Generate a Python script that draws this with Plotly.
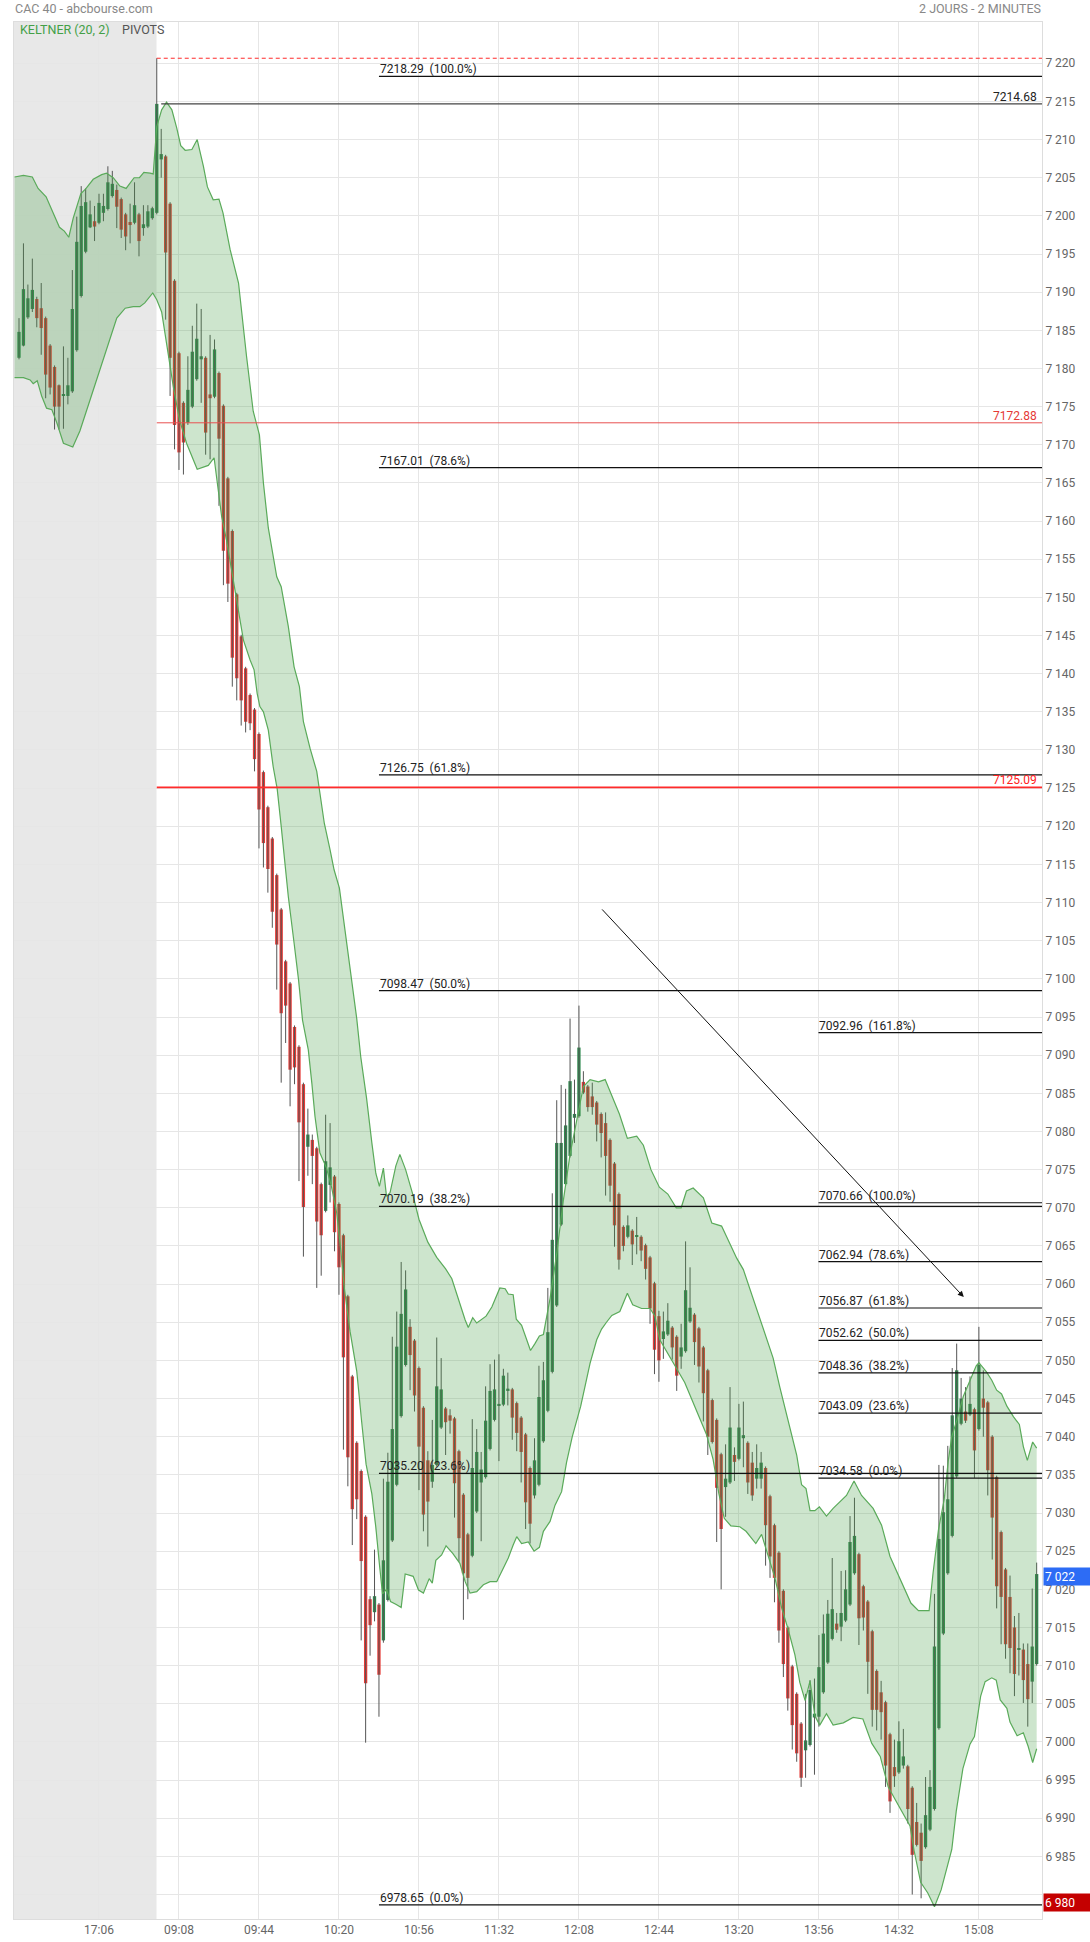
import plotly.graph_objects as go

# ---------------- data ----------------
open_p = [
    7181.4, 7183.0, 7186.7, 7187.8, 7189.1, 7187.9, 7186.6, 7183.0, 7180.2, 7177.8,
    7176.4, 7176.4, 7177.0, 7182.4, 7189.5, 7195.3, 7198.5, 7199.3, 7199.1, 7200.4,
    7200.9, 7202.6, 7203.4, 7202.2, 7200.2, 7199.2, 7199.1, 7200.2, 7198.4, 7198.6,
    7199.7,
    7200.4, 7207.4, 7207.8, 7201.6, 7191.5, 7182.0, 7175.5, 7172.9, 7175.0, 7178.6,
    7181.2, 7181.4, 7176.6, 7176.3, 7179.4, 7175.1, 7165.6, 7158.7, 7150.4, 7144.9,
    7140.7, 7137.2, 7135.3, 7132.1, 7127.1, 7122.5, 7118.4, 7113.6, 7109.1, 7102.3,
    7099.4, 7093.7, 7091.1, 7086.2, 7078.0, 7078.9, 7077.8, 7073.1, 7069.6, 7073.0,
    7074.1, 7070.5, 7066.4, 7058.4, 7047.9, 7039.2, 7035.5, 7029.5, 7018.7, 7017.0,
    7018.0, 7013.3, 7018.6, 7026.4, 7033.7, 7042.7, 7049.4, 7054.4, 7052.6, 7049.0,
    7043.8, 7036.9, 7034.1, 7036.3, 7041.2, 7043.7, 7042.8, 7042.4, 7038.1, 7032.4,
    7027.2, 7024.4, 7030.2, 7034.0, 7034.7, 7038.4, 7042.2, 7044.1, 7044.2, 7046.0,
    7046.2, 7044.4, 7042.5, 7040.3, 7035.9, 7032.3, 7033.7, 7039.4, 7043.4, 7048.5,
    7057.2, 7067.8, 7073.1, 7076.8, 7081.8, 7082.0, 7086.5, 7085.9, 7084.6, 7083.8,
    7082.3, 7081.1, 7078.9, 7075.8, 7071.8, 7067.5, 7066.2, 7067.0, 7066.2, 7066.2,
    7065.1, 7063.5, 7060.1, 7055.8, 7052.8, 7053.4, 7054.3, 7053.1, 7050.5, 7051.2,
    7055.1, 7056.0, 7054.2, 7051.7, 7048.7, 7044.8, 7042.2, 7037.7, 7033.4, 7034.0,
    7037.6, 7037.1, 7039.8, 7039.2, 7036.6, 7034.5, 7034.5, 7035.9, 7032.2, 7028.4,
    7024.8, 7019.8, 7015.0, 7009.9, 7006.3, 7002.4, 6998.9, 6999.6, 7003.2, 7003.3,
    7006.5, 7010.4, 7013.5, 7015.5, 7015.1, 7015.9, 7018.0, 7022.1, 7024.6, 7020.4,
    7018.4, 7014.5, 7009.3, 7006.5, 7005.2, 7001.0, 6996.7, 6996.0, 6996.9, 6996.8,
    6994.0, 6989.5, 6988.1, 6986.2, 6988.5, 6991.2, 7001.8, 7014.2, 7022.1, 7027.0,
    7034.8, 7041.7, 7043.3, 7042.9, 7043.6, 7041.0, 7045.0, 7044.5, 7040.0, 7034.7,
    7027.5, 7022.6, 7019.0, 7015.0, 7012.1, 7012.1, 7010.2, 7007.9, 7010.2,
]
high_p = [
    7186.6, 7196.4, 7191.0, 7194.4, 7189.4, 7191.2, 7186.8, 7183.2, 7180.4, 7177.9,
    7182.9, 7181.4, 7192.9, 7199.9, 7203.9, 7203.6, 7202.0, 7201.3, 7202.9, 7202.9,
    7206.5, 7205.9, 7204.1, 7202.4, 7200.4, 7201.6, 7204.4, 7200.4, 7201.4, 7201.4,
    7201.2,
    7220.66, 7211.4, 7208.0, 7201.8, 7191.7, 7182.2, 7175.7, 7181.6, 7185.6, 7188.5,
    7187.8, 7181.6, 7184.4, 7183.8, 7179.6, 7175.3, 7165.8, 7158.9, 7150.6, 7145.1,
    7140.9, 7137.4, 7135.5, 7132.3, 7127.3, 7122.7, 7118.6, 7113.8, 7109.3, 7102.5,
    7099.6, 7093.9, 7091.3, 7086.4, 7083.0, 7079.6, 7078.0, 7073.3, 7082.2, 7081.1,
    7074.3, 7070.7, 7066.6, 7058.6, 7048.1, 7039.4, 7035.7, 7029.7, 7019.1, 7025.2,
    7018.2, 7034.5, 7037.9, 7053.1, 7056.4, 7062.9, 7061.8, 7055.4, 7052.8, 7049.2,
    7044.0, 7038.1, 7042.2, 7053.0, 7050.3, 7043.9, 7043.6, 7042.6, 7038.3, 7032.6,
    7027.4, 7042.3, 7041.0, 7038.0, 7046.6, 7049.5, 7050.1, 7050.8, 7048.9, 7048.4,
    7046.4, 7044.6, 7042.7, 7040.5, 7036.1, 7039.8, 7049.3, 7049.8, 7059.5, 7071.9,
    7084.1, 7086.1, 7085.6, 7094.8, 7086.8, 7096.5, 7087.9, 7086.1, 7086.4, 7084.0,
    7082.5, 7082.5, 7079.1, 7076.0, 7072.0, 7067.7, 7069.0, 7067.2, 7068.8, 7066.4,
    7065.3, 7063.7, 7060.3, 7056.5, 7056.4, 7057.5, 7054.5, 7053.3, 7054.8, 7065.6,
    7062.2, 7056.2, 7054.4, 7051.9, 7048.9, 7045.0, 7042.4, 7037.9, 7039.0, 7046.5,
    7038.6, 7044.3, 7044.6, 7039.4, 7038.0, 7039.0, 7038.0, 7036.1, 7032.4, 7028.6,
    7025.0, 7020.0, 7015.2, 7010.1, 7006.5, 7002.6, 7006.3, 7008.1, 7008.3, 7014.0,
    7016.7, 7018.6, 7024.1, 7016.9, 7022.4, 7022.5, 7029.6, 7032.0, 7024.8, 7020.6,
    7018.6, 7014.7, 7009.5, 7008.0, 7005.4, 7001.2, 7000.3, 7002.7, 7001.7, 6997.0,
    6994.2, 6992.0, 6989.3, 6995.4, 6996.3, 7019.4, 7036.3, 7036.2, 7038.8, 7049.0,
    7052.2, 7047.7, 7046.5, 7047.9, 7043.8, 7054.4, 7048.7, 7044.7, 7040.2, 7034.9,
    7027.7, 7022.8, 7021.8, 7016.5, 7016.9, 7012.9, 7012.9, 7020.1, 7023.5,
]
low_p = [
    7181.2, 7182.9, 7186.5, 7187.4, 7185.4, 7181.8, 7176.1, 7176.6, 7172.0, 7172.0,
    7172.1, 7175.3, 7176.8, 7182.2, 7189.3, 7195.1, 7198.4, 7196.7, 7198.9, 7199.3,
    7200.7, 7202.4, 7198.4, 7197.1, 7195.5, 7196.4, 7198.9, 7194.7, 7197.4, 7198.4,
    7199.5,
    7200.2, 7205.0, 7186.4, 7176.4, 7169.4, 7166.7, 7166.1, 7172.6, 7174.8, 7178.4,
    7175.5, 7168.7, 7168.1, 7176.1, 7162.0, 7151.6, 7149.4, 7138.3, 7136.5, 7133.2,
    7132.3, 7132.6, 7127.2, 7117.1, 7114.6, 7111.3, 7106.7, 7098.6, 7086.4, 7091.6,
    7083.3, 7086.2, 7073.5, 7063.6, 7074.2, 7073.1, 7059.5, 7061.1, 7069.4, 7070.7,
    7064.3, 7058.6, 7038.3, 7033.5, 7025.8, 7029.2, 7013.3, 6999.9, 7011.3, 7015.8,
    7003.3, 7013.0, 7018.4, 7026.2, 7033.5, 7042.5, 7049.2, 7046.1, 7043.3, 7033.0,
    7027.6, 7025.6, 7033.3, 7036.1, 7041.0, 7037.6, 7040.4, 7029.4, 7023.6, 7016.0,
    7018.7, 7024.2, 7030.0, 7026.3, 7034.5, 7038.2, 7042.0, 7036.8, 7044.0, 7044.1,
    7039.6, 7038.1, 7034.0, 7027.9, 7026.0, 7031.9, 7033.5, 7039.2, 7043.2, 7048.3,
    7057.0, 7067.6, 7072.9, 7076.6, 7078.5, 7081.8, 7084.9, 7082.6, 7082.2, 7078.7,
    7076.6, 7071.6, 7070.8, 7064.9, 7061.9, 7064.3, 7066.0, 7062.5, 7063.9, 7063.0,
    7060.6, 7054.8, 7048.2, 7047.2, 7050.2, 7053.2, 7050.1, 7046.0, 7048.9, 7051.0,
    7054.9, 7049.4, 7047.1, 7042.0, 7037.6, 7039.1, 7026.2, 7020.0, 7029.5, 7033.8,
    7034.2, 7036.9, 7036.0, 7032.5, 7031.6, 7033.2, 7033.2, 7023.1, 7021.5, 7018.3,
    7013.0, 7008.5, 7004.1, 6999.0, 6997.4, 6994.1, 6995.3, 6999.4, 6995.7, 7002.0,
    7006.3, 7010.2, 7013.3, 7014.3, 7013.2, 7015.7, 7017.8, 7021.9, 7012.7, 7014.6,
    7006.3, 7002.0, 7001.5, 7000.3, 6994.1, 6990.7, 6994.1, 6995.8, 6996.5, 6989.3,
    6980.0, 6986.3, 6979.5, 6986.0, 6988.3, 6991.0, 7001.6, 7014.0, 7021.9, 7026.8,
    7034.6, 7041.5, 7041.8, 7042.7, 7034.6, 7040.8, 7040.0, 7032.3, 7023.9, 7017.5,
    7012.8, 7010.9, 7009.0, 7006.0, 7008.7, 7005.1, 7002.0, 7005.1, 7010.0,
]
close_p = [
    7184.8, 7190.4, 7189.2, 7190.3, 7186.6, 7185.3, 7179.2, 7177.5, 7175.0, 7175.0,
    7176.4, 7177.8, 7187.8, 7196.6, 7201.3, 7201.8, 7200.2, 7198.6, 7201.7, 7201.3,
    7204.4, 7204.2, 7201.2, 7198.2, 7197.3, 7198.8, 7201.4, 7196.7, 7198.9, 7200.6,
    7201.0,
    7214.68, 7208.1, 7195.2, 7181.4, 7172.6, 7169.0, 7170.3, 7177.2, 7182.2, 7183.9,
    7181.6, 7171.6, 7176.1, 7182.5, 7170.8, 7156.1, 7151.8, 7142.1, 7139.4, 7136.5,
    7133.7, 7133.5, 7128.8, 7122.2, 7117.8, 7114.4, 7108.8, 7104.5, 7095.5, 7096.5,
    7088.1, 7088.4, 7081.2, 7070.1, 7079.6, 7076.8, 7068.2, 7066.4, 7076.1, 7075.3,
    7066.8, 7062.2, 7050.4, 7037.3, 7030.5, 7031.8, 7023.7, 7007.7, 7015.3, 7019.1,
    7008.8, 7023.8, 7034.1, 7041.0, 7051.8, 7056.1, 7059.3, 7050.7, 7045.4, 7038.7,
    7029.8, 7031.5, 7036.3, 7046.6, 7046.2, 7041.9, 7042.1, 7033.9, 7026.7, 7022.1,
    7021.5, 7035.9, 7038.0, 7035.7, 7042.1, 7046.0, 7046.2, 7044.3, 7048.0, 7046.3,
    7042.5, 7040.5, 7038.0, 7031.4, 7028.6, 7036.9, 7045.2, 7047.4, 7053.7, 7065.8,
    7078.5, 7078.5, 7080.8, 7086.6, 7082.3, 7091.0, 7085.1, 7083.2, 7083.2, 7080.9,
    7079.8, 7076.8, 7072.9, 7067.7, 7063.2, 7065.0, 7067.7, 7065.2, 7066.3, 7064.4,
    7062.0, 7056.8, 7051.4, 7050.0, 7053.8, 7055.2, 7051.7, 7048.0, 7051.7, 7059.2,
    7056.9, 7052.4, 7049.2, 7045.7, 7040.0, 7039.3, 7033.3, 7027.9, 7034.5, 7041.2,
    7036.7, 7041.2, 7040.2, 7034.0, 7032.3, 7035.9, 7036.6, 7028.4, 7024.3, 7021.5,
    7014.6, 7010.2, 7005.7, 7002.2, 6998.5, 6995.3, 7000.2, 7006.8, 7003.7, 7009.8,
    7014.2, 7016.8, 7017.4, 7014.7, 7016.9, 7020.0, 7026.2, 7027.0, 7016.2, 7016.3,
    7010.5, 7004.2, 7004.2, 7003.9, 6996.9, 6992.2, 6995.5, 7000.1, 6998.1, 6991.2,
    6985.2, 6986.5, 6984.4, 6990.4, 6994.1, 7012.5, 7026.6, 7030.1, 7031.8, 7042.8,
    7048.7, 7045.0, 7042.1, 7044.3, 7038.2, 7049.4, 7043.8, 7035.6, 7029.4, 7020.4,
    7019.0, 7012.8, 7012.3, 7008.9, 7012.3, 7008.1, 7005.6, 7012.5, 7022.0,
]

# Keltner (20, 2) band (bar position, price)
upper_x = [-1, 1, 3, 4.3, 6.1, 7.4, 9.1, 10.2, 11.2, 12.2, 13.9, 15.1, 16.7, 18.6, 19.7,
           21.2, 22.7, 24.1, 25.9, 27.1, 28.1, 29.5, 30.2, 31, 32.1, 33.2, 34.4, 35.5,
           36.4, 37.4, 38.9, 40.1, 41.5, 42.4, 43.7, 45.0, 45.9, 47.5, 49.4, 51.2, 52.7,
           54.1, 55, 56.1, 58, 59, 60.6, 61.9, 63.1, 64, 65.5, 67, 68.7, 70, 70.9, 72.1,
           73.7, 74.9, 76, 76.9, 78.2, 79.4, 80.3, 81.1, 82, 82.7, 83.5, 84.8, 85.7, 87,
           88.5, 90, 92, 94, 96, 97.4, 98.3, 99.2, 100.4, 101.1, 102.1, 103, 105.1, 106.4,
           107.3, 108.2, 109.4, 110.1, 111.2, 111.9, 113.1, 114.1, 115.1, 116.1, 117.1,
           118, 118.7, 119.5, 121, 122.5, 124, 125.5, 127, 128.5, 130.4, 131.9, 133.4,
           135.1, 136.9, 139, 140.5, 142.2, 144.1, 146, 147.9, 149, 150.2, 151.7, 154,
           155.9, 158.1, 160.3, 161.5, 163, 164.5, 166, 168, 169.7, 171.2, 173.1, 175,
           176.1, 177.1, 178, 179.1, 180.1, 181.7, 183.2, 184.7, 186.2, 187.9, 189.6,
           192.2, 194.1, 196, 198.6, 200.7, 202.4, 204.8, 205.7, 206.9, 208.2, 209.1,
           209.9, 211, 212.5, 214, 215.4, 216, 217.7, 218.9, 220, 221.1, 222.3, 223.8,
           225.1, 226, 226.9, 228.1, 229]
upper_y = [7205.1, 7205.3, 7205.1, 7203.6, 7202.5, 7200.7, 7198.5, 7198.0, 7197.2, 7199.7,
           7202.9, 7203.6, 7204.8, 7205.4, 7205.6, 7205.0, 7203.9, 7203.6, 7205.0, 7205.0,
           7205.7, 7205.6, 7205.5, 7211.7, 7213.9, 7214.9, 7213.9, 7211.5, 7209.2, 7208.6,
           7208.7, 7210.0, 7206.5, 7203.8, 7202.1, 7202.2, 7200.4, 7195.6, 7191.2, 7181.6,
           7174.4, 7171.3, 7165.0, 7159.1, 7152.7, 7151.4, 7146.2, 7140.9, 7138.3, 7133.7,
           7130.2, 7127.2, 7120.4, 7116.9, 7114.3, 7111.9, 7105.1, 7099.4, 7094.8, 7089.8,
           7084.4, 7078.5, 7074.5, 7072.8, 7075.2, 7071.5, 7072.0, 7075.5, 7077.0, 7075.0,
           7072.0, 7068.5, 7065.5, 7063.5, 7062.0, 7060.7, 7059.0, 7057.5, 7055.3, 7054.3,
           7055.6, 7054.9, 7055.8, 7057.0, 7058.2, 7059.5, 7059.4, 7058.7, 7058.6, 7055.4,
           7054.6, 7052.9, 7051.3, 7052.2, 7053.2, 7053.4, 7055.5, 7058.1, 7064.0, 7071.0,
           7077.0, 7081.5, 7085.9, 7086.8, 7086.5, 7086.8, 7084.8, 7082.3, 7079.1, 7079.4,
           7078.2, 7075.0, 7072.7, 7071.8, 7070.0, 7070.0, 7072.2, 7072.6, 7071.3, 7068.0,
           7067.6, 7064.9, 7063.4, 7061.9, 7059.3, 7057.0, 7053.5, 7050.3, 7046.5, 7041.9,
           7037.6, 7033.7, 7033.2, 7030.3, 7030.3, 7030.8, 7029.6, 7030.6, 7031.5, 7032.3,
           7034.2, 7032.3, 7030.6, 7028.4, 7024.3, 7021.0, 7018.2, 7017.2, 7017.2, 7022.2,
           7027.8, 7031.8, 7036.8, 7040.0, 7042.1, 7045.3, 7047.4, 7049.3, 7049.7, 7048.5,
           7047.4, 7046.1, 7045.6, 7044.0, 7042.6, 7041.6, 7038.7, 7036.9, 7039.3, 7038.5]
lower_x = [-1, 1, 2.5, 3.2, 4.1, 5.1, 6.2, 7.4, 8.5, 10, 12.1, 13.7, 16, 18.2, 20.5, 22,
           23.9, 25.7, 27.2, 28.3, 30.1, 31, 32.1, 33.2, 34.7, 36.1, 37.7, 40.1, 42.6,
           43.9, 44.5, 45.6, 46.7, 47.9, 49, 50.5, 52, 52.9, 53.6, 54.2, 55, 56.1, 57.2,
           58.1, 59, 59.5, 60.6, 61.9, 62.9, 63.8, 65.1, 65.9, 66.6, 67.7, 69.2, 70.3,
           71.5, 72.4, 73.2, 74.5, 76, 77.1, 78.1, 79.4, 80.3, 81.1, 81.8, 82.7, 83.6,
           84.9, 86, 86.9, 88.7, 89.9, 91, 92.3, 93, 93.8, 95.1, 96.1, 97.6, 99.2, 100.4,
           101.5, 103, 104.5, 106, 107.5, 108.6, 110.1, 111.2, 112, 113.1, 114.6, 115.9,
           117.1, 118, 119.5, 120.6, 122.1, 123.2, 124.5, 126.4, 128.5, 130, 131.1, 132.2,
           133.4, 135.2, 136.9, 138.1, 140.1, 142, 143.1, 144.2, 146.1, 148, 149.8, 151.7,
           153.2, 154.7, 156.2, 157.5, 158.7, 160.2, 162.2, 163.6, 165.8, 167.1, 168.2,
           170.1, 171.6, 173.1, 174.6, 175.7, 176.9, 178, 179.1, 180.2, 181.7, 183.2,
           185.5, 187.7, 189.9, 191.9, 193.8, 195.6, 197.5, 199.3, 200.5, 201.4, 202.9,
           204.5, 206, 207.5, 208.6, 209.9, 210.9, 212.4, 214, 215, 216.4, 217.4, 218.9,
           219.9, 220.8, 222.3, 223, 224.6, 226, 227.1, 228.1, 229]
lower_y = [7178.8, 7178.8, 7178.5, 7178.0, 7178.4, 7176.4, 7174.8, 7174.6, 7172.9, 7170.2,
           7169.7, 7171.8, 7175.9, 7179.8, 7184.0, 7186.6, 7187.9, 7188.1, 7188.1, 7188.6,
           7189.9, 7189.0, 7187.4, 7183.3, 7177.7, 7173.3, 7170.2, 7166.8, 7167.3, 7168.3,
           7165.8, 7160.6, 7157.5, 7153.2, 7149.6, 7144.4, 7141.8, 7140.5, 7137.4, 7135.7,
           7135.0, 7132.6, 7127.8, 7124.9, 7120.0, 7117.0, 7110.8, 7104.7, 7099.9, 7094.6,
           7090.7, 7086.3, 7082.0, 7077.2, 7075.2, 7072.8, 7069.3, 7064.5, 7059.5, 7053.8,
           7048.6, 7042.0, 7036.4, 7032.5, 7028.1, 7023.3, 7019.4, 7020.0, 7018.4, 7018.0,
           7017.6, 7022.0, 7021.7, 7019.9, 7019.5, 7021.4, 7020.8, 7023.8, 7024.5, 7025.7,
           7024.7, 7023.4, 7021.0, 7019.5, 7019.7, 7020.6, 7021.0, 7021.0, 7022.3, 7024.1,
           7025.8, 7026.9, 7026.0, 7026.2, 7025.0, 7025.5, 7027.6, 7028.9, 7031.0, 7032.8,
           7036.6, 7040.0, 7044.0, 7049.6, 7052.7, 7054.1, 7055.0, 7055.9, 7056.4, 7058.8,
           7057.3, 7056.8, 7056.8, 7055.8, 7052.7, 7050.7, 7048.9, 7047.1, 7044.5, 7042.4,
           7040.3, 7037.0, 7032.5, 7029.3, 7028.3, 7028.2, 7027.6, 7026.0, 7027.2, 7025.1,
           7021.5, 7017.6, 7014.7, 7011.4, 7007.8, 7005.4, 7008.0, 7003.4, 7002.2, 7003.7,
           7002.2, 7002.5, 7003.2, 7003.0, 6999.8, 6998.1, 6994.1, 6992.1, 6990.2, 6989.0,
           6985.8, 6981.6, 6980.2, 6978.4, 6980.6, 6983.0, 6985.9, 6990.9, 6996.5, 6999.7,
           7000.7, 7006.0, 7007.9, 7008.4, 7008.1, 7005.5, 7004.4, 7002.6, 7000.8, 7001.2,
           6999.4, 6997.3, 6999.1]

x_tick_pos = [18, 36, 54, 72, 90, 108, 126, 144, 162, 180, 198, 216]
x_tick_text = ["17:06", "09:08", "09:44", "10:20", "10:56", "11:32", "12:08",
               "12:44", "13:20", "13:56", "14:32", "15:08"]
y_tick_vals = list(range(6980, 7221, 5))
# the 6 980 label sits under the red low-price box, which carries the same text
y_tick_text = ["" if v == 6980 else f"{v // 1000} {v % 1000:03d}" for v in y_tick_vals]

fib_a_levels = [7218.29, 7167.01, 7126.75, 7098.47, 7070.19, 7035.20, 6978.65]
fib_a_pcts = ["100.0%", "78.6%", "61.8%", "50.0%", "38.2%", "23.6%", "0.0%"]
fib_b_levels = [7092.96, 7070.66, 7062.94, 7056.87, 7052.62, 7048.36, 7043.09, 7034.58]
fib_b_pcts = ["161.8%", "100.0%", "78.6%", "61.8%", "50.0%", "38.2%", "23.6%", "0.0%"]
pivot_levels = [7172.88, 7125.09]
session_high = 7220.66
open_level = 7214.68
last_price = 7022
last_text = "7 022"
low_box_price = 6978.9
low_box_text = "6 980"
arrow_from = (130.9, 7109.3)
arrow_to = (212.6, 7058.3)

for arr in (high_p, low_p, close_p):
    if len(arr) != len(open_p):
        raise SystemExit(f"length mismatch {len(arr)} vs {len(open_p)}")
if len(upper_x) != len(upper_y) or len(lower_x) != len(lower_y):
    raise SystemExit("band length mismatch")

N = len(open_p)
bar_x = list(range(N))
today_start = 31
fib_a_start = 81
fib_b_start = 179.9
X_MIN, X_MAX = -1.125, 230.2
Y_MIN, Y_MAX = 6976.79, 7225.41

UP = "#2e8a4e"
DOWN = "#e53935"
FONT = "Roboto, 'Open Sans', Arial, sans-serif"

fig = go.Figure()

# wicks
wx, wy = [], []
for i in range(N):
    wx += [bar_x[i], bar_x[i], None]
    wy += [low_p[i], high_p[i], None]
fig.add_trace(go.Scatter(x=wx, y=wy, mode="lines", line=dict(color="#555555", width=1),
                         hoverinfo="skip"))

# bodies
bases = [min(o, c) for o, c in zip(open_p, close_p)]
heights = [max(abs(c - o), 0.15) for o, c in zip(open_p, close_p)]
colors = [UP if c >= o else DOWN for o, c in zip(open_p, close_p)]
fig.add_trace(go.Bar(x=bar_x, y=heights, base=bases, width=0.74,
                     marker=dict(color=colors, line=dict(width=0)), hoverinfo="skip"))

# Keltner channel fill (drawn over the candles, as in the reference)
poly_x = upper_x + lower_x[::-1]
poly_y = upper_y + lower_y[::-1]
fig.add_trace(go.Scatter(x=poly_x, y=poly_y, mode="lines", fill="toself",
                         fillcolor="rgba(70,160,70,0.27)", line=dict(width=0),
                         hoverinfo="skip"))
fig.add_trace(go.Scatter(x=upper_x, y=upper_y, mode="lines",
                         line=dict(color="#5aaa5a", width=1.2), hoverinfo="skip"))
fig.add_trace(go.Scatter(x=lower_x, y=lower_y, mode="lines",
                         line=dict(color="#5aaa5a", width=1.2), hoverinfo="skip"))

shapes = []
shapes.append(dict(type="rect", xref="x", yref="paper", x0=X_MIN, x1=today_start - 0.05,
                   y0=0, y1=1, fillcolor="#e8e8e8", line=dict(width=0), layer="below"))
shapes.append(dict(type="line", xref="x", yref="y", x0=today_start, x1=X_MAX,
                   y0=session_high, y1=session_high,
                   line=dict(color="#ff2a2a", width=1, dash="4px,3px")))
shapes.append(dict(type="line", xref="x", yref="y", x0=today_start, x1=X_MAX,
                   y0=pivot_levels[0], y1=pivot_levels[0], line=dict(color="#e85050", width=1)))
shapes.append(dict(type="line", xref="x", yref="y", x0=today_start, x1=X_MAX,
                   y0=pivot_levels[1], y1=pivot_levels[1], line=dict(color="#ff2b2b", width=1.7)))
shapes.append(dict(type="line", xref="x", yref="y", x0=today_start + 1, x1=X_MAX,
                   y0=open_level, y1=open_level, line=dict(color="#444444", width=1.2)))
for lv in fib_a_levels:
    shapes.append(dict(type="line", xref="x", yref="y", x0=fib_a_start, x1=X_MAX,
                       y0=lv, y1=lv, line=dict(color="#111111", width=1.2)))
for lv in fib_b_levels:
    shapes.append(dict(type="line", xref="x", yref="y", x0=fib_b_start, x1=X_MAX,
                       y0=lv, y1=lv, line=dict(color="#111111", width=1.2)))

ann = []
NB = "\u00a0\u00a0"
for lv, pc in zip(fib_a_levels, fib_a_pcts):
    ann.append(dict(x=fib_a_start, y=lv, xref="x", yref="y", text=f"{lv:.2f}{NB}({pc})",
                    showarrow=False, xanchor="left", yanchor="bottom", xshift=-1, yshift=-2,
                    font=dict(family=FONT, size=12, color="#222222")))
for lv, pc in zip(fib_b_levels, fib_b_pcts):
    ann.append(dict(x=fib_b_start, y=lv, xref="x", yref="y", text=f"{lv:.2f}{NB}({pc})",
                    showarrow=False, xanchor="left", yanchor="bottom", xshift=-1, yshift=-2,
                    font=dict(family=FONT, size=12, color="#222222")))
ann.append(dict(x=1, y=open_level, xref="paper", yref="y", text=f"{open_level:.2f}",
                showarrow=False, xanchor="right", yanchor="bottom", xshift=-3, yshift=-2,
                font=dict(family=FONT, size=12, color="#222222")))
ann.append(dict(x=1, y=pivot_levels[0], xref="paper", yref="y", text=f"{pivot_levels[0]:.2f}",
                showarrow=False, xanchor="right", yanchor="bottom", xshift=-3, yshift=-2,
                font=dict(family=FONT, size=12, color="#e53935")))
ann.append(dict(x=1, y=pivot_levels[1], xref="paper", yref="y", text=f"{pivot_levels[1]:.2f}",
                showarrow=False, xanchor="right", yanchor="bottom", xshift=-3, yshift=-2,
                font=dict(family=FONT, size=12, color="#ff2020")))
ann.append(dict(x=arrow_to[0], y=arrow_to[1], ax=arrow_from[0], ay=arrow_from[1],
                xref="x", yref="y", axref="x", ayref="y", text="", showarrow=True,
                arrowhead=2, arrowsize=1.2, arrowwidth=1, arrowcolor="#111111"))
ann.append(dict(x=1, y=last_price - 0.3, xref="paper", yref="y", text=last_text,
                showarrow=False, xanchor="left", yanchor="middle", xshift=1,
                bgcolor="#2d6cf5", width=44, height=15, borderpad=1, align="left",
                font=dict(family=FONT, size=12, color="white")))
ann.append(dict(x=1, y=low_box_price, xref="paper", yref="y", text=low_box_text,
                showarrow=False, xanchor="left", yanchor="middle", xshift=1,
                bgcolor="#c40000", width=44, height=15, borderpad=1, align="left",
                font=dict(family=FONT, size=12, color="white")))
ann.append(dict(x=0, y=1, xref="paper", yref="paper", text="CAC 40 - abcbourse.com",
                showarrow=False, xanchor="left", yanchor="middle", xshift=-1, yshift=13.5,
                font=dict(family=FONT, size=12.5, color="#888888")))
ann.append(dict(x=1, y=1, xref="paper", yref="paper", text="2 JOURS - 2 MINUTES",
                showarrow=False, xanchor="right", yanchor="middle", xshift=1, yshift=13.5,
                font=dict(family=FONT, size=12.5, color="#888888")))
ann.append(dict(x=0, y=1, xref="paper", yref="paper", text="KELTNER (20, 2)",
                showarrow=False, xanchor="left", yanchor="middle", xshift=4, yshift=-7.5,
                font=dict(family=FONT, size=12.5, color="#43a047")))
ann.append(dict(x=0, y=1, xref="paper", yref="paper", text="PIVOTS",
                showarrow=False, xanchor="left", yanchor="middle", xshift=105.5, yshift=-7.5,
                font=dict(family=FONT, size=12.5, color="#555555")))

fig.update_layout(
    width=1090, height=1942,
    margin=dict(l=14, r=48, t=22, b=23, autoexpand=False),
    plot_bgcolor="white", paper_bgcolor="white",
    showlegend=False, barmode="overlay",
    font=dict(family=FONT, size=12, color="#666666"),
    shapes=shapes, annotations=ann,
    xaxis=dict(range=[X_MIN, X_MAX], tickmode="array", tickvals=x_tick_pos,
               ticktext=x_tick_text, showgrid=True, gridcolor="#e6e6e6", gridwidth=1,
               zeroline=False, showline=True, mirror=True, linecolor="#dddddd",
               ticks="", tickfont=dict(size=12, color="#666666"), fixedrange=True,
               automargin=False),
    yaxis=dict(range=[Y_MIN, Y_MAX], side="right", tickmode="array",
               tickvals=y_tick_vals, ticktext=y_tick_text, showgrid=True,
               gridcolor="#e6e6e6", gridwidth=1, zeroline=False, showline=True,
               mirror=True, linecolor="#dddddd", ticks="",
               tickfont=dict(size=12, color="#666666"), fixedrange=True,
               automargin=False),
)

# no mode bar; remove the browser's default 8px page margin so the figure fills the window
fig.write_html("out.html", config={"displayModeBar": False},
               post_script="document.body.style.margin='0';")
